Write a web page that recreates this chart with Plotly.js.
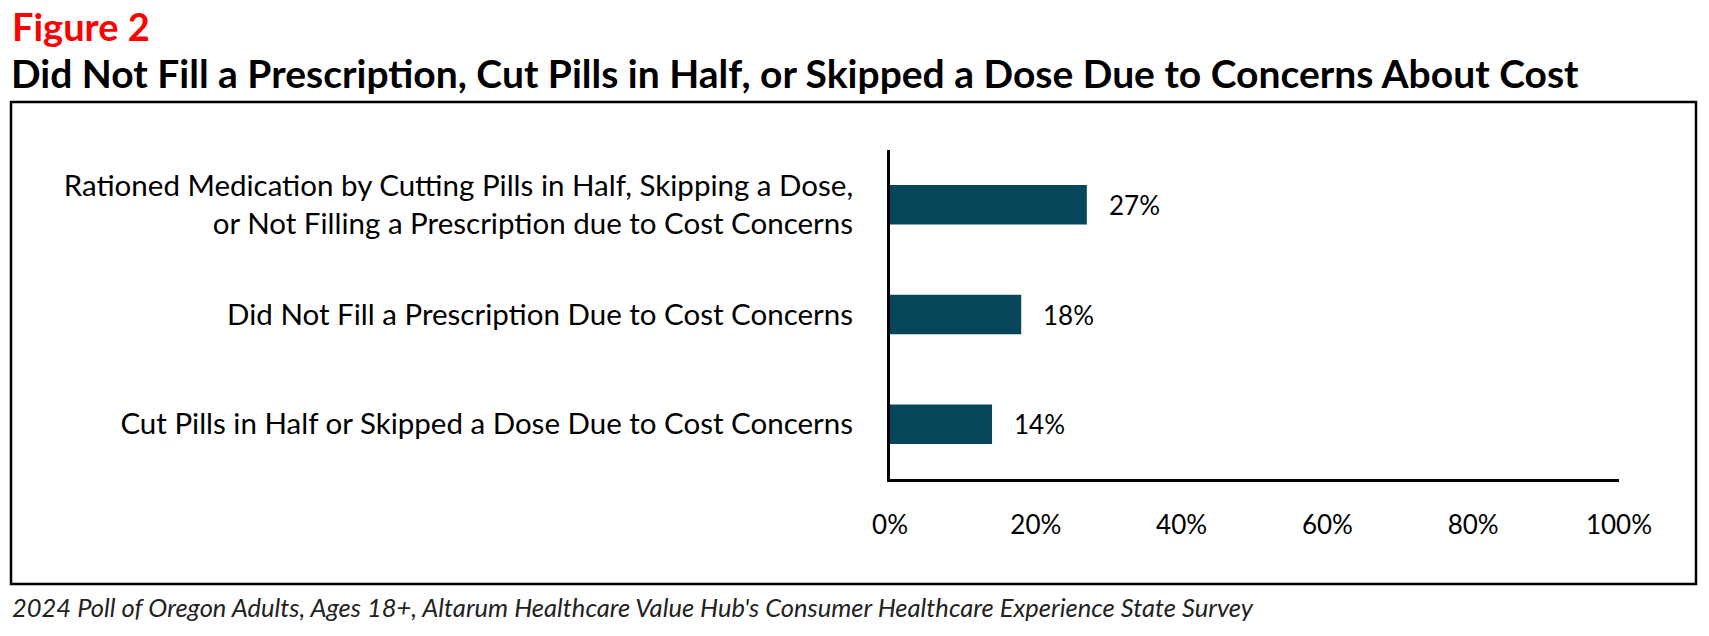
<!DOCTYPE html>
<html>
<head>
<meta charset="utf-8">
<script src="https://cdn.plot.ly/plotly-3.0.1.min.js"></script>
<style>html,body{margin:0;padding:0;background:#fff;}#chart{width:1709px;height:636px;}</style>
</head>
<body>
<div id="chart"></div>
<script>
const categories = [
  "Cut Pills in Half or Skipped a Dose Due to Cost Concerns",
  "Did Not Fill a Prescription Due to Cost Concerns",
  "Rationed Medication by Cutting Pills in Half, Skipping a Dose,<br>or Not Filling a Prescription due to Cost Concerns"
];
const values = [14, 18, 27];
const valueLabels = ["14%", "18%", "27%"];
const tickValues = [0, 20, 40, 60, 80, 100];
const tickLabels = ["0%", "20%", "40%", "60%", "80%", "100%"];

const figureLabel = "Figure 2";
const titleText = "Did Not Fill a Prescription, Cut Pills in Half, or Skipped a Dose Due to Concerns About Cost";
const sourceText = "2024 Poll of Oregon Adults, Ages 18+, Altarum Healthcare Value Hub's Consumer Healthcare Experience State Survey";

const FONT = "Lato, 'Open Sans', sans-serif";

const L = 890, R = 1619, T = 150, B = 479;

const trace = {
  type: "bar",
  orientation: "h",
  y: categories,
  x: values,
  width: 0.36,
  marker: {color: "#07465A"},
  hoverinfo: "skip"
};

function px(xp) { return (xp - L) / (R - L); }
function py(yp) { return (B - yp) / (B - T); }

const annotations = [];
annotations.push({
  xref: "paper", yref: "paper", x: px(10), y: py(26), xanchor: "left", yanchor: "middle",
  text: "<b>" + figureLabel + "</b>", showarrow: false, font: {family: FONT, size: 38, color: "#FF0000"}
});
annotations.push({
  xref: "paper", yref: "paper", x: px(9), y: py(73), xanchor: "left", yanchor: "middle",
  text: "<b>" + titleText + "</b>", showarrow: false, font: {family: FONT, size: 39, color: "#000000"}
});
annotations.push({
  xref: "paper", yref: "paper", x: px(10), y: py(607), xanchor: "left", yanchor: "middle",
  text: "<i>" + sourceText + "</i>", showarrow: false, font: {family: FONT, size: 25.5, color: "#222222"}
});
values.forEach((v, i) => {
  annotations.push({
    xref: "x", yref: "y", x: v, y: categories[i], xanchor: "left", yanchor: "middle",
    xshift: 20, text: valueLabels[i], showarrow: false,
    font: {family: FONT, size: 26, color: "#000000"}
  });
});

const layout = {
  width: 1709, height: 636,
  margin: {l: L, r: 1709 - R, t: T, b: 636 - B, pad: 0},
  paper_bgcolor: "#ffffff", plot_bgcolor: "#ffffff",
  font: {family: FONT, color: "#000000"},
  showlegend: false,
  xaxis: {
    range: [0, 100], tickvals: tickValues, ticktext: tickLabels,
    showgrid: false, zeroline: false, showline: true, linecolor: "#000000", linewidth: 3,
    ticks: "outside", ticklen: 21, tickcolor: "rgba(0,0,0,0)",
    tickfont: {family: FONT, size: 26, color: "#000000"}, fixedrange: true
  },
  yaxis: {
    showgrid: false, zeroline: false, showline: true, linecolor: "#000000", linewidth: 3,
    ticks: "outside", ticklen: 28, tickcolor: "rgba(0,0,0,0)",
    tickfont: {family: FONT, size: 29.5, color: "#000000"}, fixedrange: true
  },
  shapes: [{
    type: "rect", xref: "paper", yref: "paper",
    x0: px(11), x1: px(1696), y0: py(584), y1: py(102),
    line: {color: "#000000", width: 2.5}, fillcolor: "rgba(0,0,0,0)", layer: "below"
  }],
  annotations: annotations
};

Plotly.newPlot("chart", [trace], layout, {displayModeBar: false, staticPlot: true});
</script>
</body>
</html>
